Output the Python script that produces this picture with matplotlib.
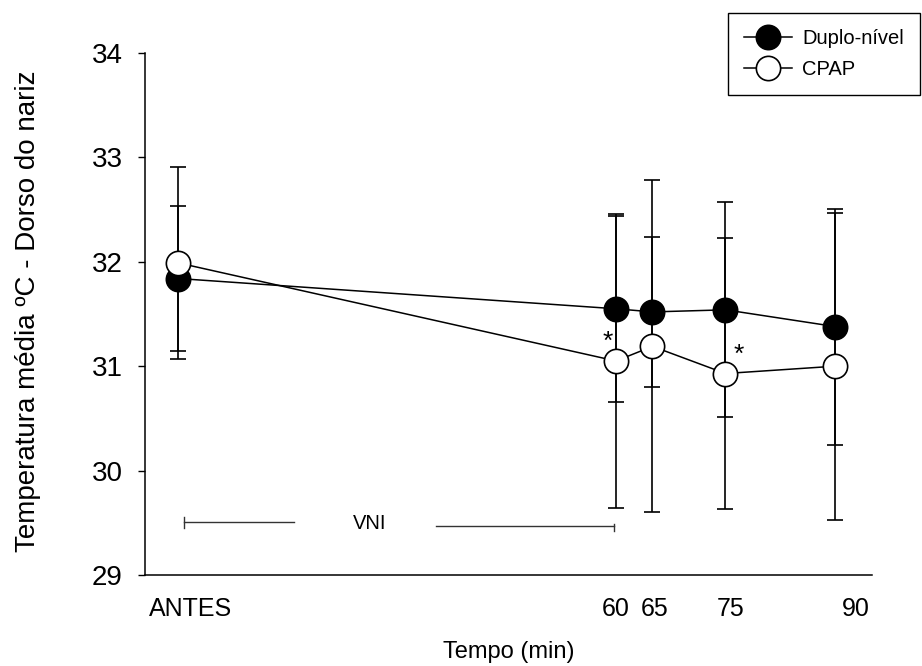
import numpy as np
import matplotlib
matplotlib.use("Agg")
import matplotlib.pyplot as plt

plt.rcParams['font.family'] = ['Liberation Sans', 'DejaVu Sans']

# data
times = [0, 60, 65, 75, 90]
tickLabels = ['ANTES', '60', '65', '75', '90']
tickPos = [1.75, 59.9, 65.35, 75.75, 92.9]

duplo = [31.84, 31.55, 31.52, 31.54, 31.38]
duploSD = [0.69, 0.89, 0.72, 1.03, 1.13]
cpap = [31.99, 31.05, 31.19, 30.93, 31.00]
cpapSD = [0.92, 1.41, 1.59, 1.30, 1.47]

W, H = 922, 666
fig = plt.figure(figsize=(W / 100, H / 100), dpi=100)
ax = fig.add_axes([145 / W, 91 / H, 727 / W, 522 / H])

# error bars behind the markers
ax.errorbar(times, duplo, yerr=duploSD, fmt='none', ecolor='black',
            elinewidth=1.2, capsize=5.5, capthick=1.2, zorder=2)
ax.errorbar(times, cpap, yerr=cpapSD, fmt='none', ecolor='black',
            elinewidth=1.2, capsize=5.5, capthick=1.2, zorder=2)

l1, = ax.plot(times, duplo, '-o', color='black', mfc='black', mec='black',
              ms=17.5, mew=1.2, lw=1.1, zorder=3, label='Duplo-nível')
l2, = ax.plot(times, cpap, '-o', color='black', mfc='white', mec='black',
              ms=17.5, mew=1.2, lw=1.1, zorder=4, label='CPAP')

# significance marks
ax.text(times[1] - 1.1, cpap[1] + 0.18, '*', fontsize=19, ha='center', va='center')
ax.text(times[3] + 1.75, cpap[3] + 0.18, '*', fontsize=19, ha='center', va='center')

# VNI bracket
vc = '#333333'
ax.plot([times[0] + 0.8, 15.9], [29.505, 29.505], color=vc, lw=1)
ax.plot([times[0] + 0.8, times[0] + 0.8], [29.45, 29.56], color=vc, lw=1)
ax.plot([35.4, times[1] - 0.3], [29.47, 29.47], color=vc, lw=1)
ax.plot([times[1] - 0.3, times[1] - 0.3], [29.42, 29.49], color=vc, lw=1)
ax.text(26.3, 29.49, 'VNI', fontsize=14.5, ha='center', va='center')

ax.set_xlim(-4.52, 95.07)
ax.set_ylim(29, 34)
ax.set_xticks(tickPos)
ax.set_xticklabels(tickLabels, fontsize=18)
ax.set_yticks(np.arange(29, 35, 1))
ax.tick_params(axis='x', length=0, pad=16)
ax.tick_params(axis='y', length=5, width=1, pad=11, labelsize=20)
for s in ['top', 'right']:
    ax.spines[s].set_visible(False)
for s in ['left', 'bottom']:
    ax.spines[s].set_linewidth(1.1)

fig.text(28 / W, (H - 311) / H, 'Temperatura média ºC - Dorso do nariz',
         rotation=90, fontsize=20, ha='center', va='center')
fig.text(508.5 / W, (H - 652) / H, 'Tempo (min)', fontsize=17,
         ha='center', va='center')

leg = fig.legend(handles=[l1, l2], loc='upper right',
                 bbox_to_anchor=(920 / W, (H - 13) / H), fontsize=14.5,
                 frameon=True, fancybox=False, edgecolor='black', framealpha=1,
                 handlelength=2.4, borderpad=0.8, labelspacing=0.6,
                 handletextpad=0.5, borderaxespad=0)
leg.get_frame().set_linewidth(1.0)

fig.savefig('out.png', dpi=100)
